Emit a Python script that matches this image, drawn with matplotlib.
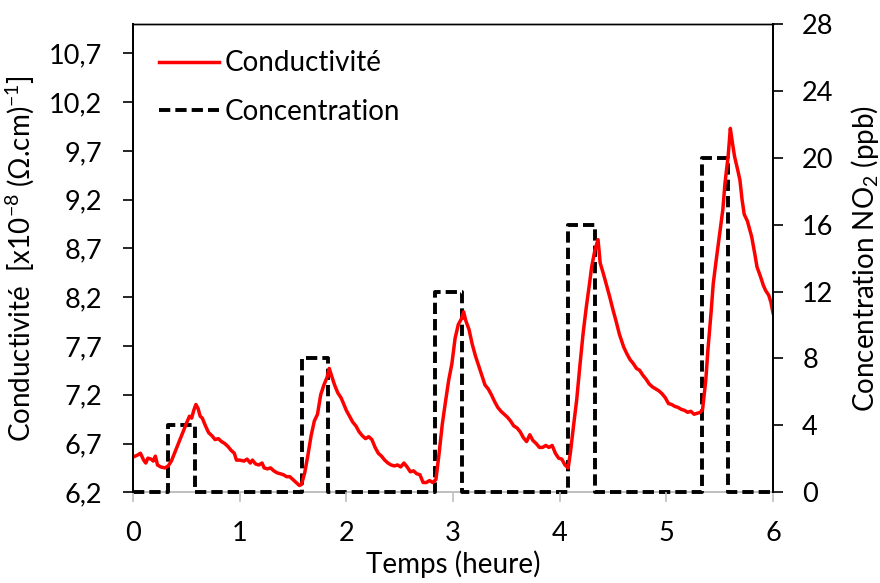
import matplotlib
matplotlib.use("Agg")
import matplotlib.pyplot as plt
import numpy as np

plt.rcParams['font.family'] = ['Lato', 'DejaVu Sans']
plt.rcParams['mathtext.fontset'] = 'custom'
plt.rcParams['mathtext.rm'] = 'Lato'
plt.rcParams['mathtext.it'] = 'Lato:italic'
plt.rcParams['mathtext.default'] = 'regular'

# ---- data ----
cond_t = [0.00, 0.04, 0.07, 0.10, 0.12, 0.14, 0.17, 0.19, 0.21, 0.23, 0.26, 0.30, 0.33, 0.36,
          0.40, 0.44, 0.48, 0.51, 0.53, 0.55, 0.57, 0.59, 0.61, 0.63, 0.65, 0.68, 0.71, 0.74,
          0.77, 0.80, 0.83, 0.86, 0.89, 0.92, 0.95, 0.97, 1.00, 1.04, 1.07, 1.10, 1.12, 1.15,
          1.18, 1.21, 1.23, 1.26, 1.29, 1.32, 1.35, 1.38, 1.41, 1.44, 1.47, 1.50, 1.53, 1.56,
          1.58, 1.61, 1.64, 1.67, 1.70, 1.73, 1.76, 1.79, 1.82, 1.84, 1.86, 1.89, 1.92, 1.95,
          1.97, 2.00, 2.03, 2.06, 2.09, 2.12, 2.15, 2.18, 2.21, 2.24, 2.27, 2.30, 2.33, 2.36,
          2.39, 2.42, 2.45, 2.48, 2.51, 2.54, 2.57, 2.60, 2.63, 2.66, 2.69, 2.72, 2.75, 2.78,
          2.81, 2.84, 2.87, 2.90, 2.93, 2.96, 2.99, 3.02, 3.05, 3.08, 3.10, 3.12, 3.15, 3.18,
          3.21, 3.24, 3.27, 3.30, 3.33, 3.36, 3.39, 3.42, 3.45, 3.48, 3.51, 3.54, 3.57, 3.60,
          3.63, 3.66, 3.69, 3.72, 3.75, 3.78, 3.81, 3.84, 3.87, 3.90, 3.93, 3.96, 3.99, 4.02,
          4.05, 4.08, 4.10, 4.13, 4.16, 4.19, 4.22, 4.25, 4.28, 4.30, 4.33, 4.36, 4.38, 4.41,
          4.44, 4.47, 4.50, 4.53, 4.56, 4.60, 4.63, 4.66, 4.69, 4.72, 4.75, 4.78, 4.81, 4.84,
          4.87, 4.90, 4.93, 4.96, 4.99, 5.02, 5.05, 5.08, 5.11, 5.14, 5.17, 5.20, 5.23, 5.26,
          5.29, 5.32, 5.34, 5.37, 5.39, 5.42, 5.44, 5.47, 5.50, 5.53, 5.55, 5.58, 5.60, 5.62,
          5.64, 5.67, 5.69, 5.71, 5.73, 5.76, 5.78, 5.80, 5.83, 5.85, 5.88, 5.91, 5.93, 5.96,
          5.98, 6.00]
cond_v = [6.56, 6.58, 6.60, 6.53, 6.50, 6.55, 6.54, 6.52, 6.57, 6.48, 6.46, 6.45, 6.47, 6.52,
          6.63, 6.74, 6.85, 6.93, 6.98, 6.96, 7.04, 7.10, 7.06, 6.98, 6.96, 6.88, 6.81, 6.78,
          6.74, 6.75, 6.72, 6.70, 6.67, 6.63, 6.60, 6.53, 6.53, 6.52, 6.54, 6.50, 6.53, 6.49,
          6.48, 6.50, 6.45, 6.44, 6.45, 6.42, 6.40, 6.39, 6.38, 6.36, 6.36, 6.33, 6.30, 6.27,
          6.28, 6.40, 6.58, 6.78, 6.93, 7.00, 7.20, 7.30, 7.38, 7.47, 7.40, 7.30, 7.22, 7.17,
          7.12, 7.04, 6.98, 6.92, 6.88, 6.82, 6.78, 6.75, 6.77, 6.74, 6.66, 6.60, 6.57, 6.53,
          6.50, 6.48, 6.47, 6.48, 6.46, 6.50, 6.46, 6.41, 6.42, 6.39, 6.38, 6.30, 6.30, 6.32,
          6.30, 6.33, 6.60, 6.90, 7.13, 7.35, 7.52, 7.78, 7.92, 7.98, 8.05, 7.96, 7.87, 7.72,
          7.60, 7.50, 7.40, 7.30, 7.26, 7.20, 7.13, 7.07, 7.03, 7.00, 6.97, 6.93, 6.88, 6.86,
          6.82, 6.76, 6.72, 6.79, 6.73, 6.70, 6.66, 6.66, 6.68, 6.66, 6.68, 6.60, 6.55, 6.54,
          6.48, 6.45, 6.60, 6.88, 7.15, 7.50, 7.83, 8.10, 8.34, 8.51, 8.68, 8.79, 8.55, 8.44,
          8.32, 8.20, 8.07, 7.95, 7.82, 7.69, 7.62, 7.56, 7.52, 7.47, 7.45, 7.40, 7.36, 7.31,
          7.28, 7.26, 7.24, 7.21, 7.17, 7.11, 7.10, 7.08, 7.07, 7.05, 7.04, 7.02, 7.03, 7.00,
          7.01, 7.02, 7.05, 7.35, 7.66, 8.05, 8.34, 8.60, 8.85, 9.10, 9.37, 9.65, 9.93, 9.78,
          9.64, 9.50, 9.40, 9.20, 9.05, 8.98, 8.90, 8.82, 8.64, 8.51, 8.42, 8.32, 8.27, 8.22,
          8.15, 8.04]

pulse_start = [0.33, 1.58, 2.83, 4.08, 5.33]
pulse_end = [0.58, 1.83, 3.08, 4.33, 5.58]
pulse_level = [4, 8, 12, 16, 20]
time_range = [0, 6]

left_ticks = [6.2, 6.7, 7.2, 7.7, 8.2, 8.7, 9.2, 9.7, 10.2, 10.7]
right_ticks = [0, 4, 8, 12, 16, 20, 24, 28]
x_ticks = [0, 1, 2, 3, 4, 5, 6]

# build step series for concentration
conc_t = [time_range[0]]
conc_v = [0]
for s, e, lv in zip(pulse_start, pulse_end, pulse_level):
    conc_t += [s, s, e, e]
    conc_v += [0, lv, lv, 0]
conc_t.append(time_range[1])
conc_v.append(0)

# ---- figure ----
fig = plt.figure(figsize=(8.8, 5.83), dpi=100)
ax = fig.add_axes([0.1511, 0.1556, 0.7273, 0.8032])
ax2 = ax.twinx()

fs = 20
tfs = 19.5
ln_c, = ax2.plot(conc_t, conc_v, color='black', lw=2.8, ls=(0, (2.9, 1.3)),
                 dash_joinstyle='round', dash_capstyle='butt', label='Concentration',
                 clip_on=False, zorder=5)
ln_r, = ax.plot(cond_t, cond_v, color='#FF0000', lw=2.5, label='Conductivité',
                solid_joinstyle='round')

ax.set_zorder(ax2.get_zorder() + 1)
ax.patch.set_visible(False)

ax.set_xlim(0, 6)
ax.set_ylim(6.2, 11.0)
ax2.set_ylim(0, 28)
ax.set_xticks(x_ticks)
ax.set_yticks(left_ticks)
ax.set_yticklabels([f"{v:.1f}".replace('.', ',') for v in left_ticks])
ax2.set_yticks(right_ticks)

for a in (ax, ax2):
    a.spines['top'].set_color('black')
    a.spines['top'].set_linewidth(1.0)
    a.spines['left'].set_color('black')
    a.spines['left'].set_linewidth(1.4)
    a.spines['right'].set_color('black')
    a.spines['right'].set_linewidth(1.4)
    a.spines['bottom'].set_color('#BFBFBF')
    a.spines['bottom'].set_linewidth(1.4)
ax.spines['bottom'].set_visible(False)

ax.tick_params(axis='y', direction='out', length=7, width=1.2, color='black',
               labelsize=tfs, pad=15)
ax.tick_params(axis='x', direction='out', length=7, width=1.2, color='#BFBFBF',
               labelsize=tfs, pad=14)
ax2.tick_params(axis='y', direction='out', length=7, width=1.2, color='black',
                labelsize=tfs, pad=14)

ax.set_xlabel('Temps (heure)', fontsize=fs)
ax.set_ylabel('Conductivité  [x10$^{-8}$ (Ω.cm)$^{-1}$]', fontsize=fs)
ax2.set_ylabel('Concentration NO$_2$ (ppb)', fontsize=fs)
ax.xaxis.set_label_coords(0.5, -0.125)
ax.yaxis.set_label_coords(-0.152, 0.5)
ax2.yaxis.set_label_coords(1.118, 0.5)

ax.legend(handles=[ln_r, ln_c], loc='upper left', frameon=False, fontsize=fs,
          handlelength=2.15, handletextpad=0.2, labelspacing=0.8,
          bbox_to_anchor=(0.0, 1.0), borderaxespad=0.55)

fig.savefig('out.png', dpi=100)
